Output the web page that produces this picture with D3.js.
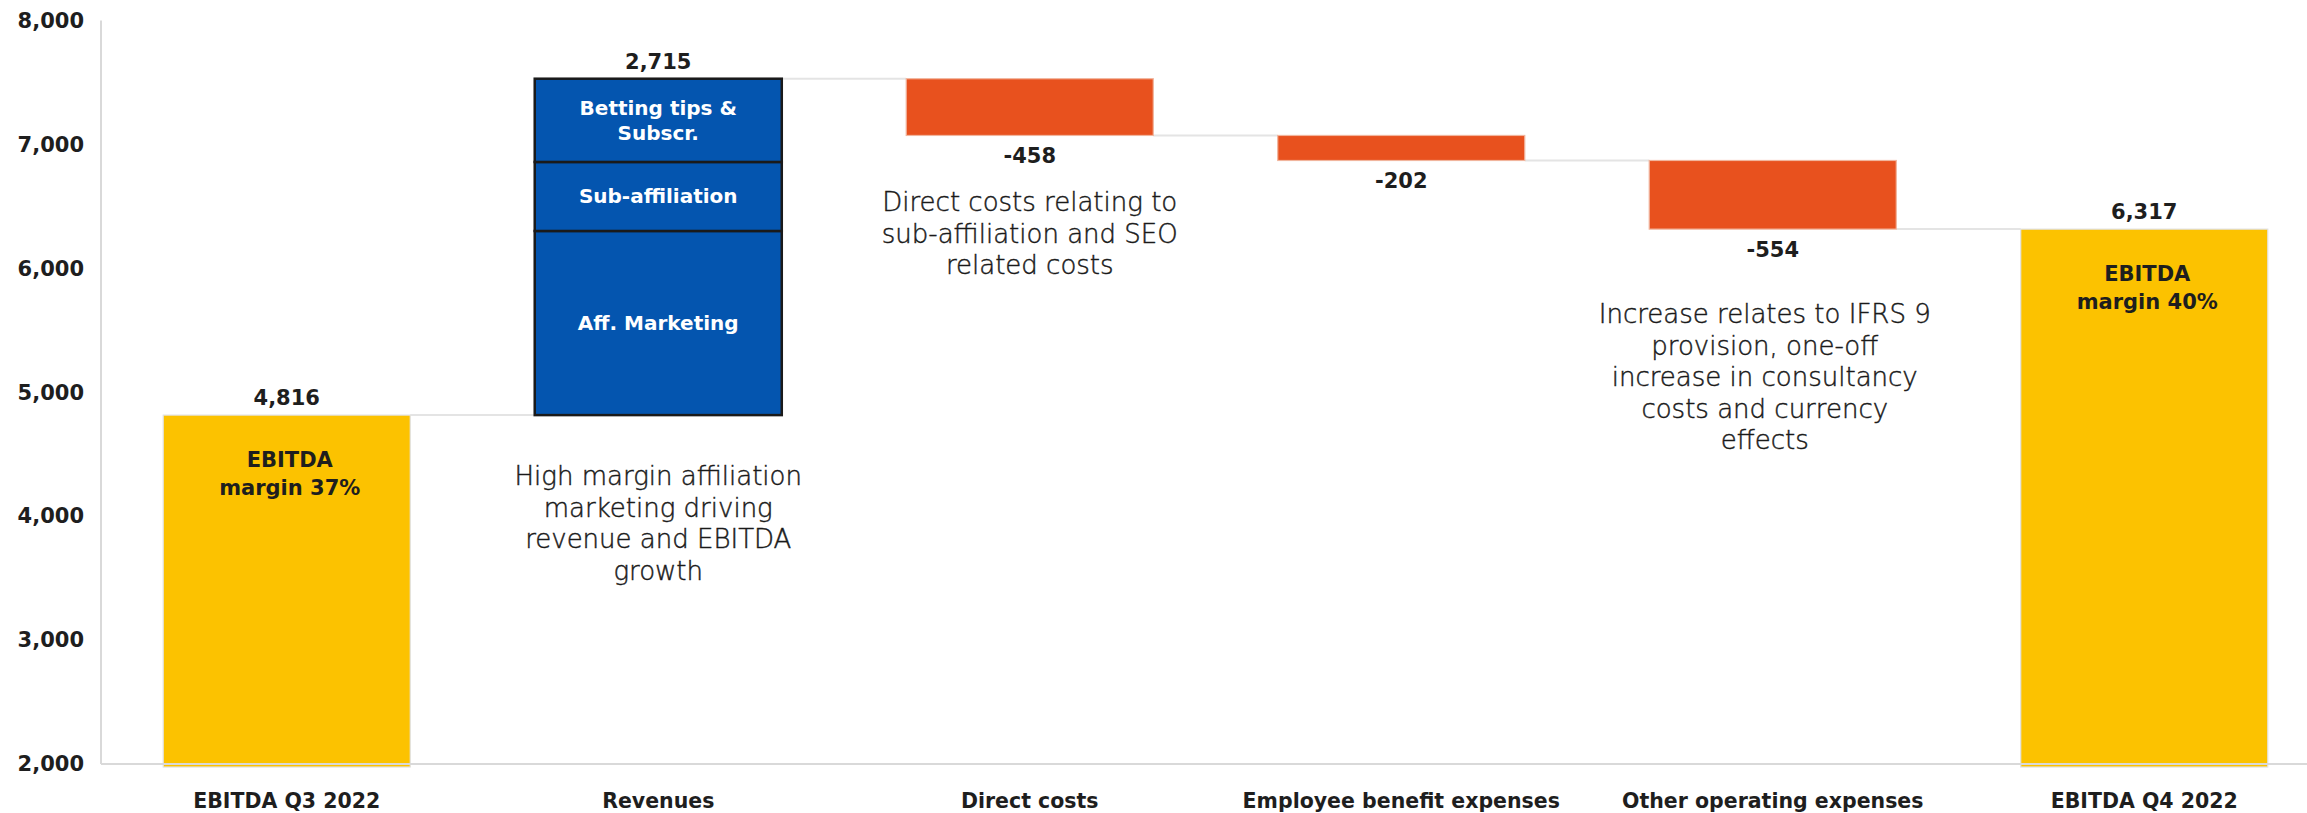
<!DOCTYPE html>
<html>
<head>
<meta charset="utf-8">
<script src="https://cdn.jsdelivr.net/npm/d3@7"></script>
<style>
  html, body { margin: 0; padding: 0; background: #ffffff; }
  svg { display: block; }
  .bold { font-family: "DejaVu Sans", "Noto Sans", sans-serif; font-weight: 700; fill: #1e1e1e; }
  .note { font-family: "DejaVu Sans", "Noto Sans", sans-serif; font-weight: 200; fill: #1a1a1a; stroke: #1a1a1a; stroke-width: 0.45px; }
</style>
</head>
<body>
<svg id="chart" width="2307" height="813"></svg>
<script>
// EBITDA bridge Q3 2022 -> Q4 2022 (waterfall)
const categories = ["EBITDA Q3 2022", "Revenues", "Direct costs", "Employee benefit expenses", "Other operating expenses", "EBITDA Q4 2022"];
const stepValues = [4816, 2715, -458, -202, -554, 6317];
const stepKinds  = ["total", "increase", "decrease", "decrease", "decrease", "total"];

// Revenue increase split into its components (bottom to top)
const revenueParts  = ["Aff. Marketing", "Sub-affiliation", "Betting tips & Subscr."];
const revenueValues = [1486, 557, 672];
const revenueLines  = [["Aff. Marketing"], ["Sub-affiliation"], ["Betting tips &", "Subscr."]];

// Margin captions inside the total bars
const marginLines = {
  "EBITDA Q3 2022": ["EBITDA", "margin 37%"],
  "EBITDA Q4 2022": ["EBITDA", "margin 40%"]
};

// Commentary placed under the bars
const notes = [
  { category: "Revenues", anchor: 4816, gap: 70, shift: 0, lines: ["High margin affiliation", "marketing driving", "revenue and EBITDA", "growth"] },
  { category: "Direct costs", anchor: 7073, gap: 76, shift: 0, lines: ["Direct costs relating to", "sub-affiliation and SEO", "related costs"] },
  { category: "Other operating expenses", anchor: 6317, gap: 94, shift: -8, lines: ["Increase relates to IFRS 9", "provision, one-off", "increase in consultancy", "costs and currency", "effects"] }
];

const yTicks = [2000, 3000, 4000, 5000, 6000, 7000, 8000];

const colors = { total: "#FCC200", increase: "#0455AF", decrease: "#E8511E" };

const svg = d3.select("#chart");
const x = d3.scaleBand().domain(categories).range([101, 2330]).paddingInner(0.335).paddingOuter(0.1675);
const y = d3.scaleLinear().domain([2000, 8000]).range([764, 20.6]);

// Running levels of the waterfall
let level = 0;
const steps = categories.map((c, i) => {
  let lo, hi, endLevel;
  if (stepKinds[i] === "total") {
    lo = y.domain()[0]; hi = stepValues[i]; endLevel = stepValues[i];
  } else {
    const start = level, end = level + stepValues[i];
    lo = Math.min(start, end); hi = Math.max(start, end); endLevel = end;
  }
  level = endLevel;
  return { category: c, kind: stepKinds[i], value: stepValues[i], lo, hi, level: endLevel };
});

// Connector lines between consecutive bars
const connectors = steps.slice(0, -1).map((s, i) => ({ from: s.category, to: steps[i + 1].category, level: s.level }));
svg.append("g").selectAll("line").data(connectors).join("line")
  .attr("x1", d => x(d.from) + x.bandwidth())
  .attr("x2", d => x(d.to))
  .attr("y1", d => y(d.level)).attr("y2", d => y(d.level))
  .attr("stroke", "#e4e4e4").attr("stroke-width", 2);

// Bars (revenue drawn separately as stacked parts)
svg.append("g").selectAll("rect").data(steps.filter(s => s.kind !== "increase")).join("rect")
  .attr("x", d => x(d.category))
  .attr("width", x.bandwidth())
  .attr("y", d => y(d.hi))
  .attr("height", d => y(d.lo) - y(d.hi) + (d.kind === "total" ? 3 : 0))
  .attr("fill", d => colors[d.kind])
  .attr("stroke", d => d.kind === "total" ? "#e2e2e2" : "#f1b59d")
  .attr("stroke-width", 1.2);

const rev = steps.find(s => s.kind === "increase");
let acc = rev.lo;
const revSegs = revenueValues.map((v, i) => {
  const seg = { name: revenueParts[i], lines: revenueLines[i], lo: acc, hi: acc + v };
  acc += v;
  return seg;
});
const revG = svg.append("g");
revG.selectAll("rect").data(revSegs).join("rect")
  .attr("x", x(rev.category))
  .attr("width", x.bandwidth())
  .attr("y", d => y(d.hi))
  .attr("height", d => y(d.lo) - y(d.hi))
  .attr("fill", colors.increase)
  .attr("stroke", "#1a1a1a").attr("stroke-width", 2.5);
revG.selectAll("text").data(revSegs).join("text")
  .attr("class", "bold")
  .style("fill", "#ffffff")
  .attr("font-size", 20)
  .attr("text-anchor", "middle")
  .attr("x", x(rev.category) + x.bandwidth() / 2)
  .attr("y", d => (y(d.lo) + y(d.hi)) / 2 - (d.lines.length - 1) * 12.5)
  .each(function(d) {
    d3.select(this).selectAll("tspan").data(d.lines).join("tspan")
      .attr("x", x(rev.category) + x.bandwidth() / 2)
      .attr("dy", (t, j) => j === 0 ? "0.35em" : 25)
      .text(t => t);
  });

// Axes: vertical value axis line and baseline
svg.append("line").attr("x1", 101).attr("x2", 101).attr("y1", y(8000)).attr("y2", y(2000))
  .attr("stroke", "#d9d9d9").attr("stroke-width", 2);
svg.append("line").attr("x1", 101).attr("x2", 2307).attr("y1", y(2000)).attr("y2", y(2000))
  .attr("stroke", "#d9d9d9").attr("stroke-width", 2);

const yAxis = d3.axisLeft(y).tickValues(yTicks).tickFormat(d3.format(",")).tickSize(0).tickPadding(17);
const yg = svg.append("g").attr("transform", "translate(101,0)").call(yAxis);
yg.select(".domain").remove();
yg.selectAll("text").attr("class", "bold").attr("font-size", 21).attr("font-family", null);

const xAxis = d3.axisBottom(x).tickSize(0).tickPadding(0);
const xg = svg.append("g").attr("transform", "translate(0,790)").call(xAxis);
xg.select(".domain").remove();
xg.selectAll("text").attr("class", "bold").attr("font-size", 20.5).attr("font-family", null).attr("dy", "0.9em");

// Value labels
svg.append("g").selectAll("text").data(steps).join("text")
  .attr("class", "bold")
  .attr("font-size", 21)
  .attr("text-anchor", "middle")
  .attr("x", d => x(d.category) + x.bandwidth() / 2)
  .attr("y", d => d.kind === "decrease" ? y(d.lo) + 28 : y(d.hi) - 10)
  .text(d => d3.format(",")(d.value).replace("\u2212", "-"));

// Margin captions inside total bars
svg.append("g").selectAll("text").data(steps.filter(s => marginLines[s.category])).join("text")
  .attr("class", "bold")
  .attr("font-size", 21)
  .attr("text-anchor", "middle")
  .attr("y", d => y(d.hi) + 52)
  .each(function(d) {
    const cx = x(d.category) + x.bandwidth() / 2 + 3;
    d3.select(this).selectAll("tspan").data(marginLines[d.category]).join("tspan")
      .attr("x", cx)
      .attr("dy", (t, j) => j === 0 ? 0 : 28)
      .text(t => t);
  });

// Commentary
svg.append("g").selectAll("text").data(notes).join("text")
  .attr("class", "note")
  .attr("font-size", 26)
  .attr("text-anchor", "middle")
  .attr("y", d => y(d.anchor) + d.gap)
  .each(function(d) {
    const cx = x(d.category) + x.bandwidth() / 2 + d.shift;
    d3.select(this).selectAll("tspan").data(d.lines).join("tspan")
      .attr("x", cx)
      .attr("dy", (t, j) => j === 0 ? 0 : 31.5)
      .text(t => t);
  });
</script>
</body>
</html>
